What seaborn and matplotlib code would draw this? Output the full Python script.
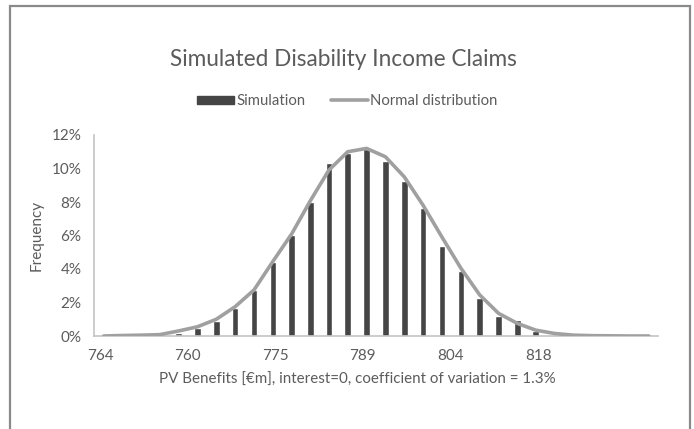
import matplotlib
matplotlib.use('Agg')
import matplotlib.pyplot as plt
import matplotlib.patches as mpatches
from matplotlib.lines import Line2D
from matplotlib.ticker import PercentFormatter
import seaborn as sns

# bin centres in €m
bin_centres = [746.6, 749.7, 752.7, 755.8, 758.9, 762.0, 765.1, 768.2, 771.3, 774.4,
               777.5, 780.6, 783.6, 786.7, 789.8, 792.9, 796.0, 799.1, 802.2, 805.3,
               808.4, 811.5, 814.6, 817.6, 820.7, 823.8, 826.9, 830.0, 833.1, 836.2]
# simulated frequency (%)
simulation = [0, 0, 0, 0, 0.2, 0.45, 0.9, 1.7, 2.75, 4.4,
              6.05, 8.0, 10.35, 10.9, 11.15, 10.45, 9.25, 7.65, 5.35, 3.9,
              2.25, 1.2, 0.95, 0.3, 0, 0, 0, 0, 0, 0]
# normal distribution (%)
normal_dist = [0.0, 0.03, 0.05, 0.08, 0.3, 0.55, 1.0, 1.75, 2.75, 4.45,
               6.1, 8.1, 9.9, 11.0, 11.2, 10.7, 9.5, 7.8, 5.9, 4.05,
               2.45, 1.35, 0.75, 0.35, 0.15, 0.05, 0.02, 0.01, 0.0, 0.0]
tick_vals = [746, 760.4, 774.8, 789.2, 803.6, 818.0]
tick_labels = ['764', '760', '775', '789', '804', '818']

sns.set_style('white')
plt.rcParams['font.family'] = ['Lato', 'DejaVu Sans']

text_col = '#5c5c5c'
bar_col = '#454545'
line_col = '#a0a0a0'
axis_col = '#c4c4c4'

W, H = 694, 429
fig = plt.figure(figsize=(W / 100, H / 100), dpi=100)
ax = fig.add_axes([94 / W, 1 - 336 / H, (658 - 94) / W, (336 - 135) / H])

sns.barplot(x=bin_centres, y=simulation, native_scale=True, width=0.36,
            color=bar_col, saturation=1, ax=ax, zorder=2)
sns.lineplot(x=bin_centres, y=normal_dist, color=line_col, lw=2.6, ax=ax, zorder=3)

ax.set_xlim(745.0, 837.7)
ax.set_ylim(0, 12)
ax.set_yticks([0, 2, 4, 6, 8, 10, 12])
ax.yaxis.set_major_formatter(PercentFormatter(xmax=100, decimals=0))
ax.set_xticks(tick_vals)
ax.set_xticklabels(tick_labels)
ax.tick_params(length=0, labelsize=11, colors=text_col)
ax.tick_params(axis='y', pad=9)
ax.tick_params(axis='x', pad=9)

for s in ['top', 'right']:
    ax.spines[s].set_visible(False)
for s in ['left', 'bottom']:
    ax.spines[s].set_color(axis_col)
    ax.spines[s].set_linewidth(1.2)

ax.set_ylabel('Frequency', fontsize=11, color=text_col, va='center')
ax.yaxis.set_label_coords((37 - 94) / 564, 0.5)
ax.set_xlabel('PV Benefits [€m], interest=0, coefficient of variation = 1.3%',
              fontsize=10.9, color=text_col, va='center')
ax.xaxis.set_label_coords((357 - 94) / 564, (336 - 380) / 201)

fig.text(343 / W, 1 - 60 / H, 'Simulated Disability Income Claims',
         ha='center', va='center', fontsize=16.3, color=text_col)

handles = [mpatches.Patch(color=bar_col),
           Line2D([0], [0], color=line_col, lw=2.6)]
fig.legend(handles, ['Simulation', 'Normal distribution'], ncol=2, frameon=False,
           loc='center', bbox_to_anchor=(347 / W, 1 - 101 / H), fontsize=10.7,
           labelcolor=text_col, handlelength=2.5, handleheight=0.45,
           handletextpad=0.15, columnspacing=1.7)

# outer chart frame
fig.patches.append(mpatches.Rectangle((10 / W, -0.05), 680 / W, 1.05 - 6 / H,
                                      transform=fig.transFigure, fill=False,
                                      edgecolor='#8a8a8a', lw=1.6))

fig.savefig('out.png', dpi=100)
